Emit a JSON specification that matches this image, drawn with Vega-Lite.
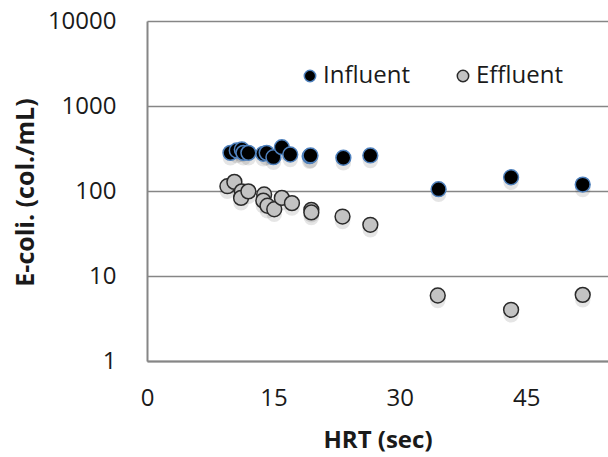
{
  "$schema": "https://vega.github.io/schema/vega-lite/v6.json",
  "width": 461,
  "height": 340,
  "autosize": "none",
  "padding": {"left": 147, "top": 21, "right": 0, "bottom": 96},
  "background": "white",
  "config": {
    "view": {"stroke": null},
    "font": "Open Sans",
    "axis": {"labelFont": "Open Sans", "titleFont": "Open Sans", "labelColor": "#1a1a1a", "titleColor": "#1a1a1a"}
  },
  "data": {
    "values": [
      {"hrt": 9.9, "ecoli": 281, "type": "Influent"},
      {"hrt": 10.65, "ecoli": 300, "type": "Influent"},
      {"hrt": 11.25, "ecoli": 308, "type": "Influent"},
      {"hrt": 11.44, "ecoli": 281, "type": "Influent"},
      {"hrt": 12.03, "ecoli": 281, "type": "Influent"},
      {"hrt": 13.8, "ecoli": 274, "type": "Influent"},
      {"hrt": 14.2, "ecoli": 281, "type": "Influent"},
      {"hrt": 15.0, "ecoli": 250, "type": "Influent"},
      {"hrt": 16.0, "ecoli": 328, "type": "Influent"},
      {"hrt": 17.0, "ecoli": 269, "type": "Influent"},
      {"hrt": 19.3, "ecoli": 257, "type": "Influent"},
      {"hrt": 19.4, "ecoli": 262, "type": "Influent"},
      {"hrt": 23.3, "ecoli": 246, "type": "Influent"},
      {"hrt": 26.5, "ecoli": 262, "type": "Influent"},
      {"hrt": 34.6, "ecoli": 105, "type": "Influent"},
      {"hrt": 43.2, "ecoli": 145, "type": "Influent"},
      {"hrt": 51.7, "ecoli": 119, "type": "Influent"},
      {"hrt": 9.54, "ecoli": 114, "type": "Effluent"},
      {"hrt": 10.37, "ecoli": 128, "type": "Effluent"},
      {"hrt": 11.25, "ecoli": 99, "type": "Effluent"},
      {"hrt": 11.16, "ecoli": 83, "type": "Effluent"},
      {"hrt": 12.03, "ecoli": 99, "type": "Effluent"},
      {"hrt": 13.9, "ecoli": 91, "type": "Effluent"},
      {"hrt": 13.8, "ecoli": 77, "type": "Effluent"},
      {"hrt": 14.3, "ecoli": 67, "type": "Effluent"},
      {"hrt": 15.1, "ecoli": 61, "type": "Effluent"},
      {"hrt": 16.0, "ecoli": 83, "type": "Effluent"},
      {"hrt": 17.2, "ecoli": 72, "type": "Effluent"},
      {"hrt": 19.5, "ecoli": 60, "type": "Effluent"},
      {"hrt": 19.5, "ecoli": 56, "type": "Effluent"},
      {"hrt": 23.2, "ecoli": 50, "type": "Effluent"},
      {"hrt": 26.5, "ecoli": 40, "type": "Effluent"},
      {"hrt": 34.5, "ecoli": 5.9, "type": "Effluent"},
      {"hrt": 43.2, "ecoli": 4.0, "type": "Effluent"},
      {"hrt": 51.7, "ecoli": 6.0, "type": "Effluent"}
    ]
  },
  "encoding": {
    "x": {
      "field": "hrt", "type": "quantitative",
      "scale": {"domain": [0, 54.7], "nice": false, "zero": false},
      "axis": {
        "title": "HRT (sec)", "values": [0, 15, 30, 45], "grid": false,
        "ticks": false, "tickSize": 0, "domainColor": "#868686", "domainWidth": 2,
        "labelFontSize": 24, "labelPadding": 25, "labelFlush": false,
        "titleFontSize": 24, "titleFontWeight": "bold", "titleY": 79, "titleBaseline": "middle"
      }
    },
    "y": {
      "field": "ecoli", "type": "quantitative",
      "scale": {"type": "log", "domain": [1, 10000], "nice": false},
      "axis": {
        "title": "E-coli. (col./mL)", "values": [1, 10, 100, 1000, 10000], "format": "d",
        "grid": true, "gridColor": "#868686", "gridWidth": 1.5,
        "ticks": false, "tickSize": 0, "domainColor": "#868686", "domainWidth": 2,
        "labelFontSize": 24, "labelPadding": 31, "labelFlush": false,
        "titleFontSize": 25, "titleFontWeight": "bold", "titleX": -122, "titleY": 171,
        "titleAngle": -90, "titleBaseline": "middle", "titleAlign": "center"
      }
    }
  },
  "layer": [
    {
      "mark": {"type": "circle", "size": 240, "fill": "#000000", "opacity": 0.1, "yOffset": 5, "stroke": null},
      "encoding": {}
    },
    {
      "mark": {"type": "circle", "size": 220, "opacity": 1, "strokeWidth": 1.5},
      "encoding": {
        "fill": {
          "field": "type", "type": "nominal",
          "scale": {"domain": ["Influent", "Effluent"], "range": ["#000000", "#c3c3c3"]},
          "legend": {
            "title": null, "orient": "none", "direction": "horizontal",
            "legendX": 151, "legendY": 43, "symbolSize": 130, "symbolStrokeWidth": 1.5,
            "labelFontSize": 24, "labelFont": "Open Sans", "labelColor": "#1a1a1a",
            "labelOffset": 1, "columnPadding": 40
          }
        },
        "stroke": {
          "field": "type", "type": "nominal",
          "scale": {"domain": ["Influent", "Effluent"], "range": ["#4f81bd", "#2a2a2a"]},
          "legend": {
            "title": null, "orient": "none", "direction": "horizontal",
            "legendX": 151, "legendY": 43, "symbolSize": 130, "symbolStrokeWidth": 1.5,
            "labelFontSize": 24, "labelFont": "Open Sans", "labelColor": "#1a1a1a",
            "labelOffset": 1, "columnPadding": 40
          }
        }
      }
    }
  ]
}
